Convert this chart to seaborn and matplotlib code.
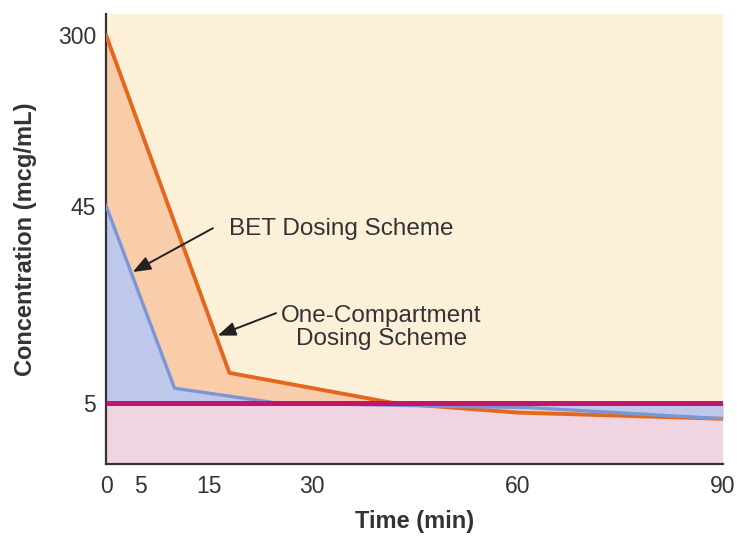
import seaborn as sns
import matplotlib.pyplot as plt
import matplotlib.ticker as mticker
import pandas as pd


# Values (time in min, concentration in mcg/mL)

one_comp_time = [0, 18, 42, 60, 90]
one_comp_conc = [300, 7.0, 5.0, 4.5, 4.2]

bet_time = [0, 10, 25, 62, 90]
bet_conc = [45, 5.9, 5.0, 4.75, 4.2]

target_conc = 5
x_ticks = [0, 5, 15, 30, 60, 90]
y_ticks = [5, 45, 300]

df_one = pd.DataFrame({"Time": one_comp_time, "Conc": one_comp_conc})
df_bet = pd.DataFrame({"Time": bet_time, "Conc": bet_conc})


sns.set_theme(style="white")
plt.rcParams["font.family"] = ["Liberation Sans", "DejaVu Sans"]

txt = "#333333"
cream = "#FDF0D8"
pink = "#F0D4E2"
magenta = "#C4146E"
orange = "#E3671E"
orange_fill = "#F9CDA9"
blue = "#7B96D6"
blue_fill = "#BDC8EA"

fig = plt.figure(figsize=(7.37, 5.36), dpi=100)
ax = fig.add_axes([106 / 737, 1 - 464 / 536, 617 / 737, 450 / 536])
ax.set_facecolor(cream)

ax.set_yscale("log")
ax.set_xlim(0, 90)
ax.set_ylim(2.54, 379)

# pink region below target concentration
ax.axhspan(2.54, target_conc, color=pink, lw=0, zorder=0)

# fills between each curve and the target line
ax.fill_between(df_one["Time"], df_one["Conc"], target_conc, color=orange_fill, lw=0, zorder=1)
ax.fill_between(df_bet["Time"], df_bet["Conc"], target_conc, color=blue_fill, lw=0, zorder=2)

sns.lineplot(data=df_one, x="Time", y="Conc", color=orange, lw=2.8, ax=ax, zorder=3)
sns.lineplot(data=df_bet, x="Time", y="Conc", color=blue, lw=2.4, ax=ax, zorder=4)
ax.plot([0, 90], [target_conc, target_conc], color=magenta, lw=3.6, zorder=5,
        solid_capstyle="butt")

# annotations
arrow = dict(arrowstyle="-|>,head_length=0.9,head_width=0.35", color="#222222", lw=1.4,
             shrinkA=0, shrinkB=0)
ax.annotate("", xy=(3.9, 21.5), xytext=(15.6, 35.0), arrowprops=arrow, zorder=6)
ax.text(17.9, 34.6, "BET Dosing Scheme", fontsize=17.5, color=txt, ha="left", va="center")
ax.annotate("", xy=(16.3, 10.6), xytext=(24.8, 13.6), arrowprops=arrow, zorder=6)
ax.text(40.2, 11.6, "One-Compartment\nDosing Scheme", fontsize=17.5, color=txt,
        ha="center", va="center", linespacing=1.1)

# axes styling
ax.set_xticks(x_ticks)
ax.set_yticks(y_ticks)
ax.yaxis.set_minor_locator(mticker.NullLocator())
ax.yaxis.set_major_formatter(mticker.FixedFormatter([str(v) for v in y_ticks]))
ax.tick_params(axis="both", direction="in", length=9, width=1.4, color="#333333",
               labelsize=16.5, labelcolor=txt, pad=8)
ax.tick_params(axis="y", pad=7)

for side in ["top", "right"]:
    ax.spines[side].set_visible(False)
for side in ["left", "bottom"]:
    ax.spines[side].set_color("#333333")
    ax.spines[side].set_linewidth(1.6)

ax.set_xlabel("Time (min)", fontsize=17, fontweight="bold", color=txt)
ax.set_ylabel("Concentration (mcg/mL)", fontsize=17, fontweight="bold", color=txt)
ax.xaxis.set_label_coords(0.5, -0.103)
ax.yaxis.set_label_coords(-0.112, 0.5)

fig.savefig("out.png", dpi=100, facecolor="white")
